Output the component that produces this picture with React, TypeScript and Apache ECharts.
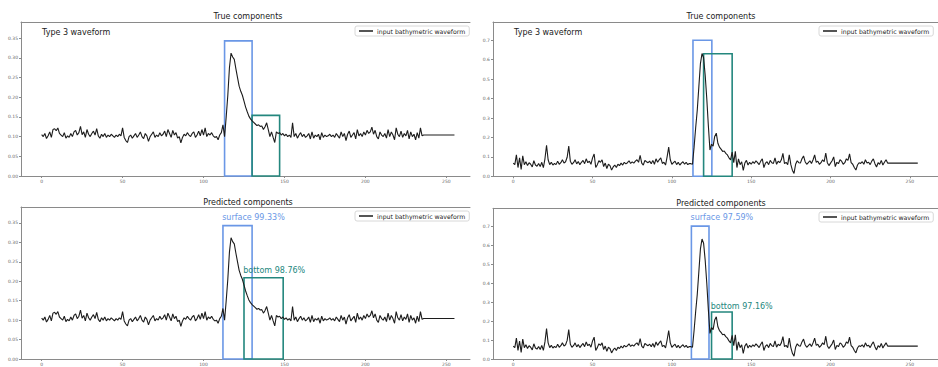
import React, { useEffect, useRef } from 'react';
import * as echarts from 'echarts';

// ---------- data ----------
const waveLeft: number[] = [
  0.105, 0.100, 0.108, 0.095, 0.102, 0.112, 0.098, 0.118, 0.120, 0.115, 0.122, 0.108, 0.104, 0.100, 0.110, 0.096,
  0.102, 0.098, 0.108, 0.100, 0.112, 0.116, 0.104, 0.110, 0.126, 0.105, 0.112, 0.098, 0.118, 0.106, 0.100, 0.108,
  0.114, 0.104, 0.120, 0.102, 0.096, 0.106, 0.100, 0.108, 0.098, 0.104, 0.100, 0.106, 0.102, 0.098, 0.104, 0.100,
  0.106, 0.102, 0.122, 0.098, 0.090, 0.085, 0.100, 0.104, 0.096, 0.102, 0.108, 0.098, 0.104, 0.112, 0.100, 0.095,
  0.108, 0.102, 0.088, 0.100, 0.106, 0.112, 0.098, 0.104, 0.100, 0.110, 0.102, 0.106, 0.114, 0.100, 0.118, 0.108,
  0.098, 0.116, 0.104, 0.110, 0.096, 0.100, 0.084, 0.098, 0.106, 0.102, 0.110, 0.104, 0.100, 0.108, 0.112, 0.098,
  0.104, 0.114, 0.102, 0.118, 0.104, 0.122, 0.100, 0.108, 0.104, 0.110, 0.102, 0.098, 0.100, 0.092, 0.104, 0.110,
  0.130, 0.100, 0.150, 0.205, 0.275, 0.312, 0.302, 0.296, 0.272, 0.250, 0.228, 0.215, 0.205, 0.190, 0.175, 0.163,
  0.152, 0.145, 0.140, 0.136, 0.132, 0.128, 0.130, 0.126, 0.127, 0.118, 0.125, 0.135, 0.118, 0.100, 0.112, 0.098,
  0.085, 0.112, 0.108, 0.110, 0.104, 0.108, 0.102, 0.106, 0.100, 0.104, 0.098, 0.135, 0.100, 0.108, 0.096, 0.104,
  0.110, 0.100, 0.106, 0.098, 0.102, 0.108, 0.094, 0.112, 0.096, 0.104, 0.100, 0.106, 0.092, 0.110, 0.098, 0.104,
  0.100, 0.102, 0.106, 0.100, 0.104, 0.098, 0.108, 0.102, 0.096, 0.112, 0.100, 0.108, 0.090, 0.106, 0.114, 0.098,
  0.104, 0.110, 0.094, 0.118, 0.102, 0.108, 0.100, 0.112, 0.104, 0.116, 0.108, 0.112, 0.124, 0.106, 0.116, 0.100,
  0.094, 0.112, 0.104, 0.100, 0.108, 0.096, 0.118, 0.100, 0.112, 0.104, 0.092, 0.122, 0.106, 0.100, 0.114, 0.098,
  0.108, 0.102, 0.116, 0.094, 0.112, 0.100, 0.106, 0.092, 0.110, 0.096, 0.122, 0.102, 0.104, 0.104, 0.104, 0.104,
  0.104, 0.104, 0.104, 0.104, 0.104, 0.104, 0.104, 0.104, 0.104, 0.104, 0.104, 0.104, 0.104, 0.104, 0.104, 0.104,
];

const waveRight: number[] = [
  0.068, 0.060, 0.110, 0.045, 0.095, 0.035, 0.105, 0.060, 0.075, 0.055, 0.070, 0.062, 0.048, 0.080, 0.058, 0.052,
  0.066, 0.050, 0.072, 0.045, 0.090, 0.160, 0.085, 0.060, 0.072, 0.058, 0.066, 0.060, 0.078, 0.062, 0.070, 0.085,
  0.068, 0.075, 0.098, 0.155, 0.078, 0.062, 0.070, 0.085, 0.064, 0.076, 0.060, 0.072, 0.082, 0.065, 0.090, 0.070,
  0.078, 0.062, 0.095, 0.115, 0.045, 0.060, 0.080, 0.072, 0.085, 0.050, 0.068, 0.040, 0.062, 0.055, 0.032, 0.048,
  0.058, 0.045, 0.062, 0.055, 0.068, 0.058, 0.072, 0.064, 0.070, 0.080, 0.066, 0.074, 0.068, 0.078, 0.085, 0.072,
  0.108, 0.068, 0.058, 0.082, 0.075, 0.070, 0.078, 0.065, 0.082, 0.062, 0.090, 0.072, 0.085, 0.095, 0.066, 0.072,
  0.058, 0.100, 0.150, 0.085, 0.062, 0.070, 0.078, 0.060, 0.072, 0.058, 0.068, 0.075, 0.062, 0.072, 0.060, 0.066,
  0.065, 0.062, 0.150, 0.250, 0.340, 0.460, 0.580, 0.632, 0.610, 0.520, 0.400, 0.260, 0.135, 0.165, 0.155, 0.205,
  0.222, 0.170, 0.150, 0.140, 0.128, 0.130, 0.118, 0.110, 0.095, 0.085, 0.125, 0.070, 0.128, 0.045, 0.090, 0.060,
  0.075, 0.030, 0.068, 0.082, 0.058, 0.072, 0.062, 0.075, 0.066, 0.080, 0.070, 0.060, 0.078, 0.090, 0.045, 0.068,
  0.075, 0.060, 0.082, 0.070, 0.066, 0.095, 0.062, 0.078, 0.070, 0.085, 0.118, 0.065, 0.072, 0.060, 0.110, 0.060,
  0.030, 0.015, 0.062, 0.080, 0.070, 0.068, 0.090, 0.105, 0.075, 0.062, 0.070, 0.080, 0.066, 0.085, 0.110, 0.072,
  0.078, 0.062, 0.070, 0.085, 0.075, 0.120, 0.070, 0.055, 0.068, 0.080, 0.100, 0.050, 0.072, 0.065, 0.085, 0.078,
  0.062, 0.070, 0.090, 0.082, 0.115, 0.070, 0.062, 0.045, 0.032, 0.058, 0.070, 0.066, 0.075, 0.062, 0.085, 0.068,
  0.072, 0.060, 0.078, 0.090, 0.065, 0.048, 0.070, 0.062, 0.082, 0.058, 0.072, 0.085, 0.068, 0.068, 0.068, 0.068,
  0.068, 0.068, 0.068, 0.068, 0.068, 0.068, 0.068, 0.068, 0.068, 0.068, 0.068, 0.068, 0.068, 0.068, 0.068, 0.068,
];

const xTickValues = [0, 50, 100, 150, 200, 250];
const yTicksLeft = [0, 0.05, 0.1, 0.15, 0.2, 0.25, 0.3, 0.35];
const yTicksRight = [0, 0.1, 0.2, 0.3, 0.4, 0.5, 0.6, 0.7];
const yMaxLeft = 0.391;
const yMaxRight = 0.794;
const xMin = -12.75;
const xMaxLeft = 264.6;
const xMaxRight = 267.75;

const panelTitles = ['True components', 'True components', 'Predicted components', 'Predicted components'];
const typeLabel = 'Type 3 waveform';
const legendName = 'input bathymetric waveform';

// [x start, x end, top]
const surfaceBoxes = [
  [113, 130, 0.343],
  [113.3, 125.2, 0.7],
  [112, 130, 0.343],
  [112.3, 123.4, 0.7],
];
const bottomBoxes = [
  [130, 147, 0.154],
  [120, 138, 0.631],
  [125, 149.2, 0.209],
  [125, 138, 0.248],
];
const surfaceScores = ['', '', 'surface 99.33%', 'surface 97.59%'];
const bottomScores = ['', '', 'bottom 98.76%', 'bottom 97.16%'];

// ---------- layout ----------
const FONT = 'DejaVu Sans';
const BLUE = '#6a97e6';
const TEAL = '#24877e';
const AXIS = '#8a8a8a';

const panels = [
  { left: 21, top: 22, width: 449, height: 154, wave: waveLeft, yTicks: yTicksLeft, yMax: yMaxLeft, xMax: xMaxLeft, dec: 2, cx: 248, ty: 16, legendLeft: 355, legendTop: 26, bOff: -10 },
  { left: 493, top: 22, width: 456, height: 154.3, wave: waveRight, yTicks: yTicksRight, yMax: yMaxRight, xMax: xMaxRight, dec: 1, cx: 721, ty: 16, legendLeft: 819, legendTop: 26, bOff: -10 },
  { left: 21, top: 207, width: 449, height: 154.3, wave: waveLeft, yTicks: yTicksLeft, yMax: yMaxLeft, xMax: xMaxLeft, dec: 2, cx: 248, ty: 202, legendLeft: 355, legendTop: 211, bOff: -10.5 },
  { left: 493, top: 208.3, width: 456, height: 155.4, wave: waveRight, yTicks: yTicksRight, yMax: yMaxRight, xMax: xMaxRight, dec: 1, cx: 721, ty: 203, legendLeft: 819, legendTop: 212, bOff: -9 },
];

function buildOption() {
  const grid: any[] = [];
  const xAxis: any[] = [];
  const yAxis: any[] = [];
  const series: any[] = [];
  const legend: any[] = [];
  const graphic: any[] = [];

  panels.forEach((p, g) => {
    grid.push({ left: p.left, top: p.top, width: p.width, height: p.height, show: false });
    xAxis.push({
      type: 'value', gridIndex: g, min: xMin, max: p.xMax, position: 'bottom',
      splitLine: { show: false },
      axisLine: { show: true, onZero: false, lineStyle: { color: AXIS, width: 1 } },
      axisTick: { show: true, length: 2, lineStyle: { color: AXIS }, customValues: xTickValues },
      axisLabel: { show: true, fontSize: 4.5, color: '#666', margin: 3, fontFamily: FONT, customValues: xTickValues },
    });
    xAxis.push({
      type: 'value', gridIndex: g, min: xMin, max: p.xMax, position: 'top',
      splitLine: { show: false },
      axisLine: { show: true, onZero: false, lineStyle: { color: AXIS, width: 1 } },
      axisTick: { show: false }, axisLabel: { show: false },
    });
    yAxis.push({
      type: 'value', gridIndex: g, min: 0, max: p.yMax,
      splitLine: { show: false },
      axisLine: { show: true, onZero: false, lineStyle: { color: AXIS, width: 1 } },
      axisTick: { show: true, length: 2, lineStyle: { color: AXIS }, customValues: p.yTicks },
      axisLabel: {
        show: true, fontSize: 4.5, color: '#666', margin: 3, fontFamily: FONT, customValues: p.yTicks,
        formatter: (v: number) => v.toFixed(p.dec),
      },
    });

    const sb = surfaceBoxes[g];
    const bb = bottomBoxes[g];
    series.push({
      type: 'line', name: legendName, xAxisIndex: 2 * g, yAxisIndex: g,
      data: p.wave.map((v, i) => [i, v]),
      showSymbol: false, symbol: 'none',
      lineStyle: { color: '#1c1c1c', width: 1.1 },
      itemStyle: { color: '#1c1c1c' },
      z: 3,
      markArea: {
        silent: true,
        data: [
          [
            {
              coord: [sb[0], 0],
              itemStyle: { color: 'rgba(0,0,0,0)', borderColor: BLUE, borderWidth: 1.6 },
              label: {
                show: surfaceScores[g] !== '', formatter: surfaceScores[g], position: [0, -11.5],
                color: BLUE, fontSize: 8, fontFamily: FONT,
              },
            },
            { coord: [sb[1], sb[2]] },
          ],
          [
            {
              coord: [bb[0], 0],
              itemStyle: { color: 'rgba(0,0,0,0)', borderColor: TEAL, borderWidth: 1.6 },
              label: {
                show: bottomScores[g] !== '', formatter: bottomScores[g], position: [0, p.bOff],
                color: TEAL, fontSize: 8, fontFamily: FONT,
              },
            },
            { coord: [bb[1], bb[2]] },
          ],
        ],
      },
    });

    legend.push({
      data: [legendName], left: p.legendLeft, top: p.legendTop,
      icon: 'rect', itemWidth: 14, itemHeight: 1.5, itemGap: 0,
      textStyle: { fontSize: 6.2, color: '#222', fontFamily: FONT, padding: [0, 0, 0, -1] },
      borderColor: '#d8d8d8', borderWidth: 1, borderRadius: 2, padding: [2, 4, 2, 4],
      backgroundColor: '#fff', selectedMode: false,
    });

    graphic.push({
      type: 'text', x: p.cx, y: p.ty,
      style: { text: panelTitles[g], fontSize: 8, fontFamily: FONT, fill: '#222', align: 'center', verticalAlign: 'middle' },
    });
    if (g < 2) {
      graphic.push({
        type: 'text', x: p.left + 21, y: 32,
        style: { text: typeLabel, fontSize: 8, fontFamily: FONT, fill: '#222', align: 'left', verticalAlign: 'middle' },
      });
    }
  });

  return {
    animation: false,
    backgroundColor: '#fff',
    textStyle: { fontFamily: FONT },
    grid, xAxis, yAxis, series, legend, graphic,
  };
}

export default function App() {
  const ref = useRef<HTMLDivElement>(null);
  useEffect(() => {
    if (!ref.current) return;
    const chart = echarts.init(ref.current, undefined, { renderer: 'svg' });
    chart.setOption(buildOption() as any);
    return () => chart.dispose();
  }, []);
  return (
    <div
      ref={ref}
      style={{ position: 'absolute', left: 0, top: 0, width: 938, height: 367, background: '#fff' }}
    />
  );
}
